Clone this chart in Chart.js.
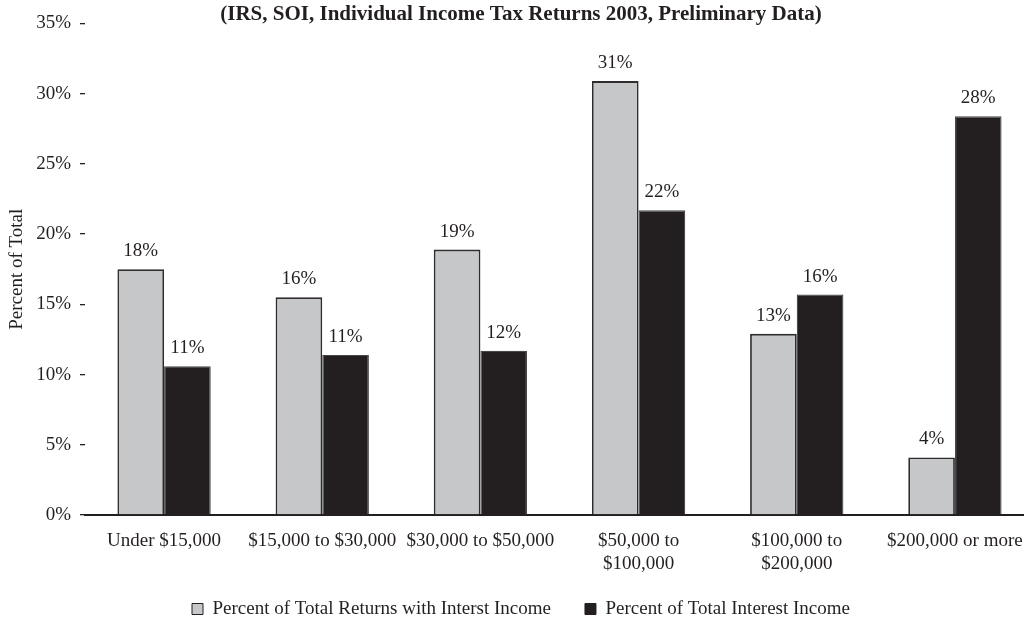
<!DOCTYPE html>
<html>
<head>
<meta charset="utf-8">
<title>Interest Income by Income Class</title>
<script src="https://cdn.jsdelivr.net/npm/chart.js@4"></script>
<style>
  html, body { margin: 0; padding: 0; background: #ffffff; overflow: hidden; }
  #wrap { width: 1040px; height: 618px; }
</style>
</head>
<body>
<div id="wrap"><canvas id="chart" width="1040" height="618"></canvas></div>
<script>
// Income classes (x axis)
const incomeClasses = [
  'Under $15,000',
  '$15,000 to $30,000',
  '$30,000 to $50,000',
  ['$50,000 to', '$100,000'],
  ['$100,000 to', '$200,000'],
  '$200,000 or more'
];

// Share of all returns reporting interest income (%)
const returnsShare = [17.5, 15.5, 18.9, 30.9, 12.9, 4.1];

// Share of total interest income received (%)
const interestShare = [10.6, 11.4, 11.7, 21.7, 15.7, 28.4];

// Y axis tick values (%)
const yTicks = [0, 5, 10, 15, 20, 25, 30, 35];

const seriesNames = [
  'Percent of Total Returns with Interst Income',
  'Percent of Total Interest Income'
];

const INK = '#231f20';
const SERIF = '"Liberation Serif", "Times New Roman", serif';
const FONT_SIZE = 19;

// Writes each bar's rounded value above it
const barValueLabels = {
  id: 'barValueLabels',
  afterDatasetsDraw(chart) {
    const ctx = chart.ctx;
    ctx.save();
    ctx.font = FONT_SIZE + 'px ' + SERIF;
    ctx.fillStyle = INK;
    ctx.textAlign = 'center';
    ctx.textBaseline = 'middle';
    chart.data.datasets.forEach((ds, di) => {
      const meta = chart.getDatasetMeta(di);
      meta.data.forEach((bar, i) => {
        ctx.fillText(Math.round(ds.data[i]) + '%', bar.x, bar.y - 18);
      });
    });
    ctx.restore();
  }
};

// Pulls the legend row up closer to the category labels
const legendLift = {
  id: 'legendLift',
  afterLayout(chart) {
    const lg = chart.legend;
    if (lg) { lg.top -= 12.5; lg.bottom -= 12.5; }
  }
};

new Chart(document.getElementById('chart'), {
  type: 'bar',
  data: {
    labels: incomeClasses,
    datasets: [
      {
        label: seriesNames[0],
        data: returnsShare,
        backgroundColor: '#c6c7c9',
        borderColor: '#2f2c2d',
        borderWidth: 1.8,
        borderSkipped: 'bottom'
      },
      {
        label: seriesNames[1],
        data: interestShare,
        backgroundColor: INK,
        borderColor: '#4a4748',
        borderWidth: 1.2,
        borderSkipped: 'bottom'
      }
    ]
  },
  options: {
    responsive: false,
    animation: false,
    devicePixelRatio: 1,
    layout: { padding: { left: 8, right: 6, top: 0, bottom: -23 } },
    datasets: {
      bar: { categoryPercentage: 0.59, barPercentage: 1.0 }
    },
    scales: {
      x: {
        grid: { display: false, drawTicks: false },
        border: { display: true, color: INK, width: 2 },
        ticks: {
          color: INK,
          padding: 14.6,
          maxRotation: 0,
          autoSkip: false,
          font: { family: SERIF, size: FONT_SIZE, lineHeight: 1.2 }
        },
        afterFit(scale) { scale.height = 63; }
      },
      y: {
        min: yTicks[0],
        max: yTicks[yTicks.length - 1],
        afterBuildTicks(scale) {
          scale.ticks = yTicks.map(v => ({ value: v }));
        },
        afterFit(scale) { scale.width = 77; },
        grid: {
          drawOnChartArea: false,
          drawTicks: true,
          tickLength: 5,
          color: INK,
          lineWidth: 1.3
        },
        border: { display: false },
        ticks: {
          color: INK,
          padding: 9,
          font: { family: SERIF, size: FONT_SIZE },
          callback: v => v + '%'
        },
        title: {
          display: true,
          text: 'Percent of Total',
          color: INK,
          padding: { top: 0, bottom: 0 },
          font: { family: SERIF, size: FONT_SIZE, lineHeight: 1 }
        }
      }
    },
    plugins: {
      title: {
        display: true,
        text: '(IRS, SOI, Individual Income Tax Returns 2003, Preliminary Data)',
        color: INK,
        padding: { top: 4, bottom: -1.5 },
        font: { family: SERIF, size: 21, weight: 'bold', lineHeight: 1 }
      },
      legend: {
        position: 'bottom',
        labels: {
          color: INK,
          boxWidth: 11,
          boxHeight: 11,
          padding: 34,
          font: { family: SERIF, size: FONT_SIZE },
          generateLabels(chart) {
            return chart.data.datasets.map((ds, i) => ({
              text: ds.label,
              fillStyle: ds.backgroundColor,
              strokeStyle: INK,
              lineWidth: 1,
              fontColor: INK,
              datasetIndex: i,
              hidden: false
            }));
          }
        }
      },
      tooltip: { enabled: false }
    }
  },
  plugins: [barValueLabels, legendLift]
});
</script>
</body>
</html>
